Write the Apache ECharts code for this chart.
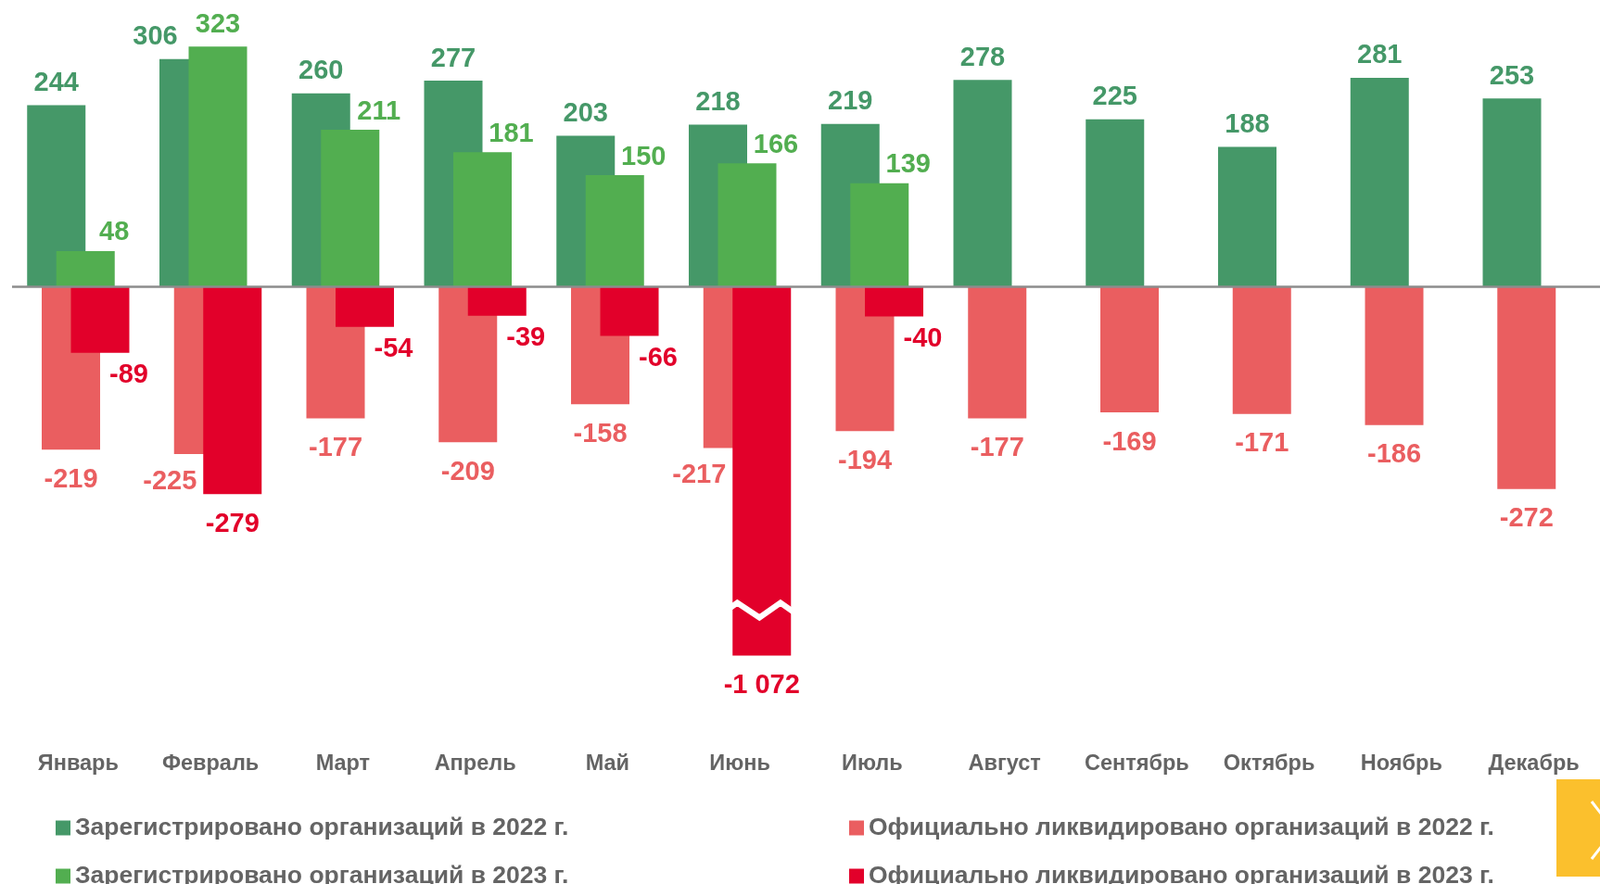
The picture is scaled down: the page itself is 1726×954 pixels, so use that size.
<!DOCTYPE html>
<html><head><meta charset="utf-8">
<script src="https://cdn.jsdelivr.net/npm/echarts@6/dist/echarts.min.js"></script>
<style>html,body{margin:0;padding:0;background:#fff}#c{width:1726px;height:954px}</style>
</head><body><div id="c"></div>
<script>
const months = ['Январь','Февраль','Март','Апрель','Май','Июнь','Июль','Август','Сентябрь','Октябрь','Ноябрь','Декабрь'];
const reg2022 = [244, 306, 260, 277, 203, 218, 219, 278, 225, 188, 281, 253];
const reg2023 = [48, 323, 211, 181, 150, 166, 139];
const liq2022 = [-219, -225, -177, -209, -158, -217, -194, -177, -169, -171, -186, -272];
const liq2023 = [-89, -279, -54, -39, -66, -1072, -40];
const names = ['Зарегистрировано организаций в 2022 г.', 'Зарегистрировано организаций в 2023 г.',
               'Официально ликвидировано организаций в 2022 г.', 'Официально ликвидировано организаций в 2023 г.'];

const C = {dark:'#459868', light:'#52AE50', salmon:'#EA5E60', red:'#E2002A', text:'#646464', axis:'#8C8C8C'};
const FONT = '"Liberation Sans", Arial, sans-serif';
const fmt = v => (v < 0 ? '-' : '') + Math.abs(v).toString().replace(/\B(?=(\d{3})+(?!\d))/g, ' ');

// side -1: bar on the left of its pair, +1: bar on the right
// a label is moved sideways when the neighbouring bar of the pair is longer
function build(values, other, side, baseDist, shiftedDist) {
  return values.map((v, i) => {
    if (v == null) return null;
    const o = other[i];
    let shift = 0;
    if (o != null) {
      if (side < 0 && Math.abs(o) > Math.abs(v)) shift = -36;
      if (side > 0 && Math.abs(v) < Math.abs(o)) shift = 31;
    }
    return {value: v, label: {offset: [shift, 0], distance: shift ? shiftedDist : baseDist}};
  });
}

function bar(name, data, color, pos) {
  return {
    name, type: 'bar', data, barWidth: 63, barGap: '-75%',
    itemStyle: {color},
    label: {show: true, position: pos, formatter: p => fmt(p.value),
            color, fontSize: 29, fontWeight: 'bold', fontFamily: FONT},
    emphasis: {disabled: true}
  };
}

const s0 = bar(names[0], build(reg2022, reg2023, -1, 9, 9), C.dark, 'top');
s0.markLine = {silent: true, symbol: 'none', label: {show: false},
  lineStyle: {color: C.axis, width: 2.5, type: 'solid'}, data: [{yAxis: 0}], z: 10};
const s1 = bar(names[2], build(liq2022, liq2023, -1, 18, 15), C.salmon, 'bottom');
const s2 = bar(names[1], build(reg2023, reg2022, 1, 9, 5), C.light, 'top');
const s3 = bar(names[3], build(liq2023, liq2022, 1, 18, 10), C.red, 'bottom');

const legendCommon = {orient: 'horizontal', icon: 'rect', itemWidth: 16, itemHeight: 16, padding: 0,
  selectedMode: false,
  textStyle: {color: C.text, fontSize: 26.5, fontWeight: 'bold', fontFamily: FONT}};
const legendPos = [[60, 880], [60, 932], [916, 880], [916, 932]];

const chart = echarts.init(document.getElementById('c'), null, {renderer: 'canvas'});
chart.setOption({
  animation: false,
  backgroundColor: '#fff',
  grid: {left: 13, right: -2, top: 28.5, height: 725.6},
  legend: names.map((n, i) => Object.assign({}, legendCommon, {data: [n], left: legendPos[i][0], top: legendPos[i][1]})),
  xAxis: {
    type: 'category', data: months, position: 'bottom',
    axisLine: {show: false, onZero: false}, axisTick: {show: false},
    axisLabel: {interval: 0, color: C.text, fontSize: 23.5, fontWeight: 'bold', fontFamily: FONT, margin: 58}
  },
  yAxis: {
    type: 'value', min: -1130, max: 350,
    breaks: [{start: -1013, end: -432, gap: 5}],
    breakArea: {show: true, expandOnClick: false, zigzagAmplitude: 8, zigzagMinSpan: 22, zigzagMaxSpan: 24, zigzagZ: 200,
      itemStyle: {color: '#fff', opacity: 1, borderColor: '#fff', borderWidth: 3, borderType: 'solid'}},
    axisLine: {show: false}, axisTick: {show: false}, axisLabel: {show: false}, splitLine: {show: false}
  },
  series: [s0, s1, s2, s3],
  graphic: [
    {type: 'rect', left: 1679, top: 841, shape: {width: 60, height: 105}, style: {fill: '#FBC02D'}, z: 100},
    {type: 'polyline', shape: {points: [[1717, 865], [1741, 896], [1717, 927]]}, style: {stroke: '#fff', lineWidth: 3, fill: null}, z: 101}
  ]
});
</script>
</body></html>
